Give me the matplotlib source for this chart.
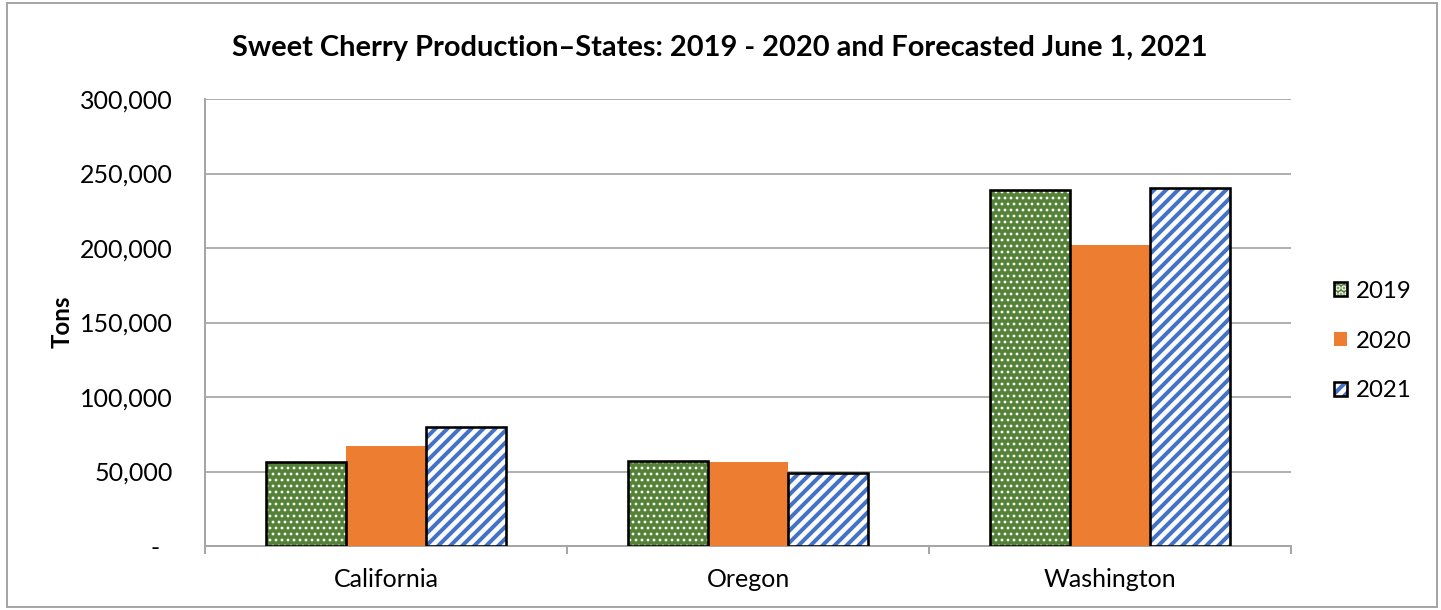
import matplotlib
matplotlib.use("Agg")
import matplotlib.pyplot as plt
import matplotlib.patches as mpatches
from matplotlib.ticker import FuncFormatter
import numpy as np

plt.rcParams['font.family'] = ['Lato', 'DejaVu Sans']

states = ["California", "Oregon", "Washington"]
years = ["2019", "2020", "2021"]
v2019 = [56500, 57300, 239000]
v2020 = [66800, 56200, 201800]
v2021 = [80000, 49200, 240000]
yticks = [0, 50000, 100000, 150000, 200000, 250000, 300000]

DPI = 144
W, H = 1441, 610
fig = plt.figure(figsize=(W / DPI, H / DPI), dpi=DPI)
ax = fig.add_axes([205 / W, (H - 546) / H, 1086 / W, 447 / H])

x = np.arange(len(states))
bw = 80 / 362

green = "#538135"
orange = "#ED7D31"
blue = "#4472C4"
DOTS = "...."
STRIPES = "////"

def set_hlw(patches, lw):
    for p in patches:
        if hasattr(p, "set_hatch_linewidth"):
            p.set_hatch_linewidth(lw)

plt.rcParams['hatch.linewidth'] = 0.8
b1 = ax.bar(x - bw, v2019, bw, color=green, edgecolor="white", linewidth=0, hatch=DOTS, zorder=3)
set_hlw(b1, 0.8)
ax.bar(x - bw, v2019, bw, fill=False, edgecolor="black", linewidth=1.3, zorder=4)
ax.bar(x, v2020, bw, color=orange, linewidth=0, zorder=3)
plt.rcParams['hatch.linewidth'] = 2.0
b3 = ax.bar(x + bw, v2021, bw, color="white", edgecolor=blue, linewidth=0, hatch=STRIPES, zorder=3)
set_hlw(b3, 2.0)
ax.bar(x + bw, v2021, bw, fill=False, edgecolor="black", linewidth=1.3, zorder=4)

ax.set_xlim(-0.5, 2.5)
ax.set_ylim(0, 300000)
ax.set_yticks(yticks)
ax.yaxis.set_major_formatter(FuncFormatter(lambda v, p: "-  " if v == 0 else f"{int(v):,}"))
ax.set_xticks(x)
ax.set_xticklabels(states)
ax.set_xticks([-0.5, 0.5, 1.5, 2.5], minor=True)
ax.tick_params(axis="x", which="major", length=0, labelsize=12.5, pad=11)
ax.tick_params(axis="x", which="minor", length=4, color="#a6a6a6", width=1)
ax.tick_params(axis="y", length=0, labelsize=12.5, pad=16)
ax.grid(axis="y", color="#b0b0b0", linewidth=1.0, zorder=0)
ax.set_axisbelow(True)
for s in ["top", "right"]:
    ax.spines[s].set_visible(False)
for s in ["bottom", "left"]:
    ax.spines[s].set_color("#a6a6a6")
    ax.spines[s].set_linewidth(1.0)

fig.text(62 / W, 1 - 322 / H, "Tons", rotation=90, fontsize=12, fontweight="bold",
         ha="center", va="center")
fig.text(720 / W, 1 - 48 / H,
         "Sweet Cherry Production\u2013States: 2019 - 2020 and Forecasted June 1, 2021",
         fontsize=14.5, fontweight="bold", ha="center", va="center")

# legend
plt.rcParams['hatch.linewidth'] = 0.8
h1a = mpatches.Patch(facecolor=green, edgecolor="white", linewidth=0, hatch=DOTS)
set_hlw([h1a], 0.8)
h1b = mpatches.Patch(fill=False, edgecolor="black", linewidth=1.3)
h2 = mpatches.Patch(facecolor=orange, linewidth=0)
plt.rcParams['hatch.linewidth'] = 2.0
h3a = mpatches.Patch(facecolor="white", edgecolor=blue, linewidth=0, hatch=STRIPES)
set_hlw([h3a], 2.0)
h3b = mpatches.Patch(fill=False, edgecolor="black", linewidth=1.3)
fig.legend([(h1a, h1b), h2, (h3a, h3b)], years, loc="center left",
           bbox_to_anchor=(1334 / W, 1 - 341 / H), frameon=False, fontsize=12,
           handlelength=0.55, handleheight=0.55, handletextpad=0.35, labelspacing=1.2,
           borderaxespad=0, borderpad=0)

fig.add_artist(mpatches.Rectangle((7 / W, 3 / H), (1437 - 7) / W, (607 - 3) / H,
                                  transform=fig.transFigure, fill=False,
                                  edgecolor="#a6a6a6", linewidth=1.0))

fig.savefig("out.png", dpi=DPI)
